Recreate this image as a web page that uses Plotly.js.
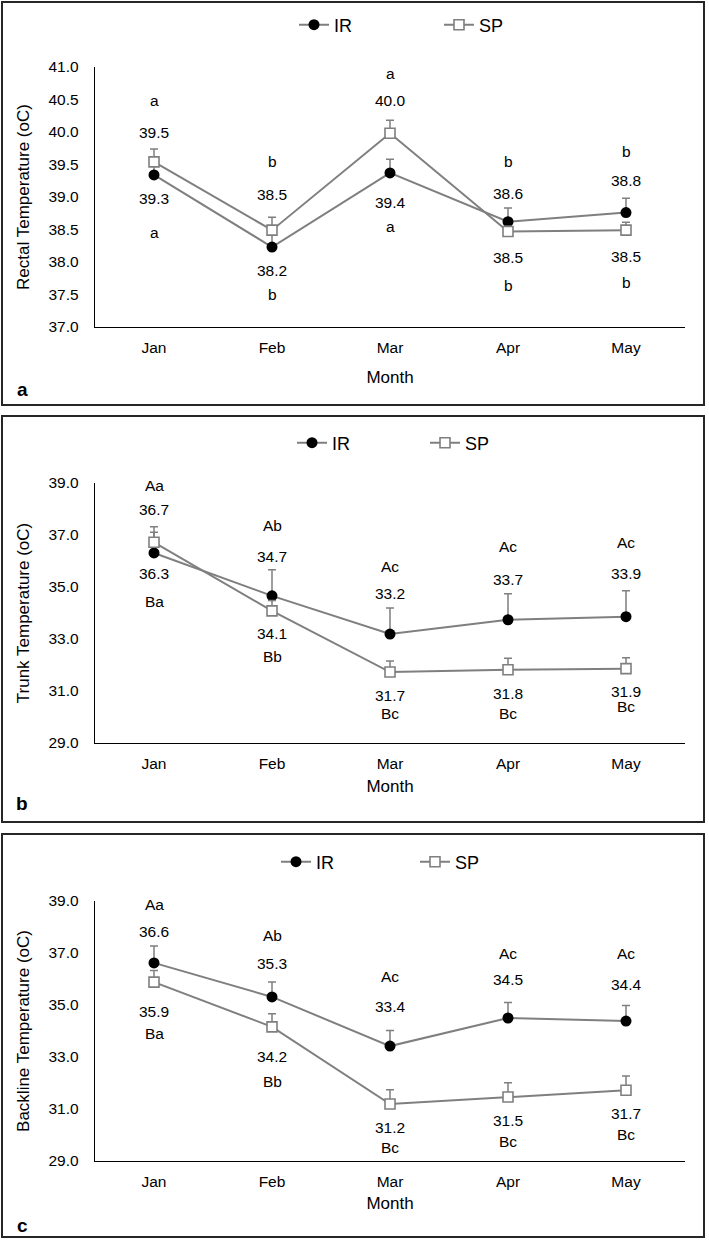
<!DOCTYPE html>
<html><head><meta charset="utf-8">
<script src="https://cdn.plot.ly/plotly-3.0.1.min.js"></script>
<style>html,body{margin:0;padding:0;background:#fff}</style>
</head><body><div id="chart" style="width:709px;height:1240px"></div>
<script>
// ---------- data ----------
const months = ['Jan', 'Feb', 'Mar', 'Apr', 'May'];

const rectalIR    = [39.34, 38.23, 39.37, 38.62, 38.76];
const rectalSP    = [39.54, 38.49, 39.98, 38.47, 38.49];
const rectalIRErr = [0.15, 0.22, 0.21, 0.21, 0.22];
const rectalSPErr = [0.20, 0.20, 0.20, 0.08, 0.12];
const rectalTopLetters = ['a', 'b', 'a', 'b', 'b'];
const rectalBotLetters = ['a', 'b', 'a', 'b', 'b'];

const trunkIR    = [36.31, 34.66, 33.19, 33.74, 33.86];
const trunkSP    = [36.72, 34.08, 31.73, 31.82, 31.86];
const trunkIRErr = [0.80, 1.00, 1.00, 1.00, 1.00];
const trunkSPErr = [0.60, 0.40, 0.42, 0.44, 0.42];
const trunkTopLetters = ['Aa', 'Ab', 'Ac', 'Ac', 'Ac'];
const trunkBotLetters = ['Ba', 'Bb', 'Bc', 'Bc', 'Bc'];

const backIR    = [36.62, 35.31, 33.42, 34.50, 34.38];
const backSP    = [35.88, 34.16, 31.19, 31.46, 31.72];
const backIRErr = [0.65, 0.57, 0.60, 0.60, 0.60];
const backSPErr = [0.45, 0.50, 0.55, 0.55, 0.55];
const backTopLetters = ['Aa', 'Ab', 'Ac', 'Ac', 'Ac'];
const backBotLetters = ['Ba', 'Bb', 'Bc', 'Bc', 'Bc'];

// ---------- style / layout config ----------
const W = 709, H = 1240;
const FONT = 'Liberation Sans, Arial, Helvetica, sans-serif';
const LINE_GRAY = '#7f7f7f';
const TXT = 15.5;

const panels = [
  { ir: rectalIR, sp: rectalSP, irErr: rectalIRErr, spErr: rectalSPErr,
    top: rectalTopLetters, bot: rectalBotLetters,
    ytitle: 'Rectal Temperature (oC)', range: [37, 41], dtick: 0.5,
    plotTop: 67, plotBot: 327, legendY: 25, legendX: 298, entryW: 100,
    box: [2, 405], tag: 'a', tagY: 390, xStandoff: 16,
    off: { numTop: [29, 36, 33, 28, 32], letTop: [61, 69, 60, 60, 61],
           numBot: [-24, -23, -30, -26, -26], letBot: [-58, -47, -54, -54, -52] } },
  { ir: trunkIR, sp: trunkSP, irErr: trunkIRErr, spErr: trunkSPErr,
    top: trunkTopLetters, bot: trunkBotLetters,
    ytitle: 'Trunk Temperature (oC)', range: [29, 39], dtick: 2,
    plotTop: 483, plotBot: 743, legendY: 443, legendX: 296, entryW: 88,
    box: [416, 822], tag: 'b', tagY: 803, xStandoff: 9,
    off: { numTop: [33, 39, 41, 40, 43], letTop: [57, 70, 68, 73, 74],
           numBot: [-21, -23, -23, -24, -23], letBot: [-49, -46, -41, -44, -38] } },
  { ir: backIR, sp: backSP, irErr: backIRErr, spErr: backSPErr,
    top: backTopLetters, bot: backBotLetters,
    ytitle: 'Backline Temperature (oC)', range: [29, 39], dtick: 2,
    plotTop: 901, plotBot: 1161, legendY: 862, legendX: 280, entryW: 94,
    box: [834, 1237], tag: 'c', tagY: 1225, xStandoff: 8,
    off: { numTop: [31, 33, 40, 39, 37], letTop: [58, 61, 70, 65, 68],
           numBot: [-29, -30, -23, -23, -23], letBot: [-51, -55, -43, -44, -44] } }
];

const traces = [];
const annotations = [];
const shapes = [];
const layout = {
  width: W, height: H,
  margin: { l: 0, r: 0, t: 0, b: 0 },
  paper_bgcolor: '#fff', plot_bgcolor: '#fff',
  font: { family: FONT, color: '#000', size: TXT },
  showlegend: true
};

panels.forEach((p, i) => {
  const n = i + 1;
  const xa = n === 1 ? 'x' : 'x' + n;
  const ya = n === 1 ? 'y' : 'y' + n;
  const lg = n === 1 ? 'legend' : 'legend' + n;

  traces.push({
    type: 'scatter', mode: 'lines+markers', name: 'IR',
    x: months, y: p.ir, xaxis: xa, yaxis: ya, legend: lg,
    line: { color: LINE_GRAY, width: 2 },
    marker: { symbol: 'circle', size: 11, color: '#000', line: { width: 0 } },
    error_y: { type: 'data', symmetric: false, array: p.irErr, arrayminus: p.irErr.map(() => 0),
               color: LINE_GRAY, thickness: 1.5, width: 4 }
  });
  traces.push({
    type: 'scatter', mode: 'lines+markers', name: 'SP',
    x: months, y: p.sp, xaxis: xa, yaxis: ya, legend: lg,
    line: { color: LINE_GRAY, width: 2 },
    marker: { symbol: 'square', size: 10, color: '#fff', line: { width: 1.6, color: LINE_GRAY } },
    error_y: { type: 'data', symmetric: false, array: p.spErr, arrayminus: p.spErr.map(() => 0),
               color: LINE_GRAY, thickness: 1.5, width: 4 }
  });

  const yDom = [1 - p.plotBot / H, 1 - p.plotTop / H];
  layout[n === 1 ? 'xaxis' : 'xaxis' + n] = {
    domain: [95 / W, 685 / W], anchor: ya, type: 'category',
    range: [-0.5, 4.5], showline: true, linecolor: '#000', linewidth: 1.3,
    ticks: '', showgrid: false, zeroline: false, fixedrange: true,
    tickfont: { size: TXT }, ticklabelstandoff: 6,
    title: { text: 'Month', font: { size: 17 }, standoff: p.xStandoff }
  };
  layout[n === 1 ? 'yaxis' : 'yaxis' + n] = {
    domain: yDom, anchor: xa, range: p.range, dtick: p.dtick, tick0: p.range[0],
    tickformat: '.1f', showline: true, linecolor: '#000', linewidth: 1.3,
    ticks: '', showgrid: false, zeroline: false, fixedrange: true,
    tickfont: { size: TXT }, ticklabelstandoff: 12,
    title: { text: p.ytitle, font: { size: 17 }, standoff: 14 }
  };
  layout[lg] = {
    orientation: 'h', x: (p.legendX - 4) / W, xanchor: 'left', y: 1 - p.legendY / H, yanchor: 'middle',
    font: { size: 18 }, bgcolor: 'rgba(0,0,0,0)', entrywidth: p.entryW, entrywidthmode: 'pixels'
  };

  months.forEach((m, j) => {
    const topVal = Math.max(p.ir[j], p.sp[j]);
    const botVal = Math.min(p.ir[j], p.sp[j]);
    const base = { xref: xa, yref: ya, x: m, showarrow: false, font: { size: TXT },
                   xanchor: 'center', yanchor: 'middle' };
    annotations.push(Object.assign({}, base, { y: topVal, text: topVal.toFixed(1), yshift: p.off.numTop[j] }));
    annotations.push(Object.assign({}, base, { y: topVal, text: p.top[j], yshift: p.off.letTop[j] }));
    annotations.push(Object.assign({}, base, { y: botVal, text: botVal.toFixed(1), yshift: p.off.numBot[j] }));
    annotations.push(Object.assign({}, base, { y: botVal, text: p.bot[j], yshift: p.off.letBot[j] }));
  });

  annotations.push({ xref: 'paper', yref: 'paper', x: 22 / W, y: 1 - p.tagY / H,
    xanchor: 'center', yanchor: 'middle',
    text: '<b>' + p.tag + '</b>', showarrow: false, font: { size: 19 } });

  shapes.push({ type: 'rect', xref: 'paper', yref: 'paper',
    x0: 2 / W, x1: 704 / W, y0: 1 - p.box[1] / H, y1: 1 - p.box[0] / H,
    line: { color: '#262626', width: 2 } });
});

layout.annotations = annotations;
layout.shapes = shapes;

Plotly.newPlot('chart', traces, layout, { displayModeBar: false, staticPlot: true });
</script></body></html>
